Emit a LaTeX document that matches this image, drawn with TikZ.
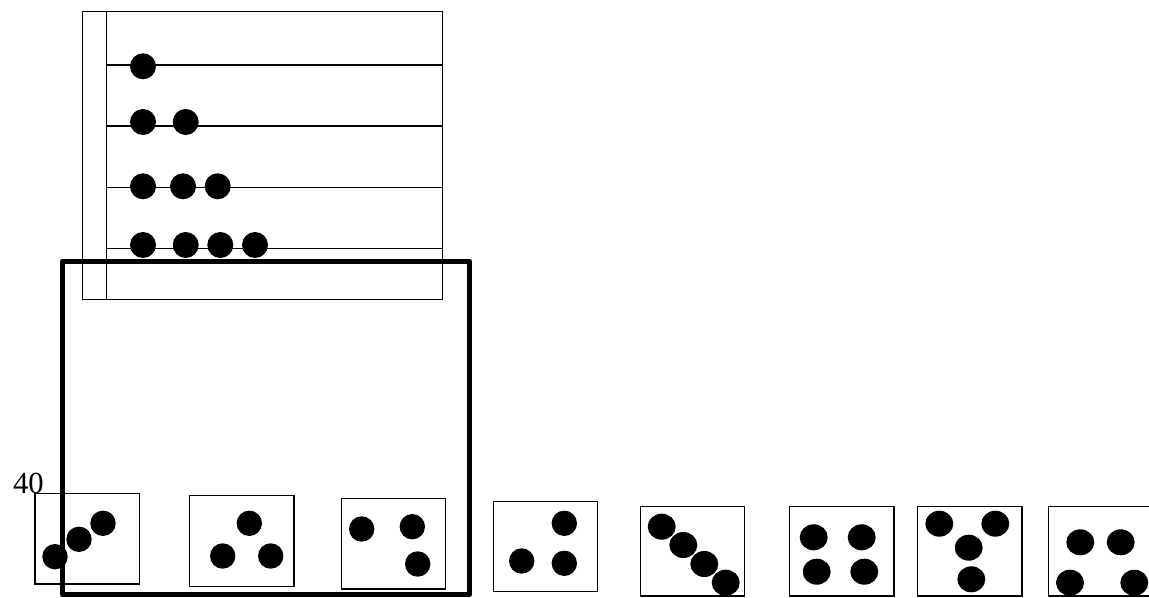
\documentclass[tikz,border=0pt]{standalone}
\usepackage{fontspec}
\setmainfont{Liberation Serif}
\begin{document}
\begin{tikzpicture}[x=0.75pt,y=-0.75pt,
  thin/.style={draw=black,line width=1.15pt},
  frame/.style={draw=black,line width=3.8pt,line join=round},
  bead/.style={fill=black},
  pip/.style={fill=black}]
\useasboundingbox (0,0) rectangle (1149,598);
\clip (0,0) rectangle (1149,598);
% abacus
\draw[thin] (82.7,11.7) rectangle (442.7,299.3);
\draw[thin] (106.7,11.7) -- (106.7,299.3);
\foreach \y in {65,126,187.7,248.7}{\draw[thin] (106.7,\y) -- (442.7,\y);}
\foreach \x/\y in {143/66.3, 143/122, 185.7/122, 143/186.3, 183/186.3, 217.7/186.3,
                   143/245, 185.7/245, 220.3/245, 255/245}
  {\fill[bead] (\x,\y) circle[radius=13];}
% label
\node[anchor=base east,inner sep=0pt,font=\fontsize{23}{27}\selectfont] (lab) at (44,493) {40};
% dice
\draw[thin] (35,493.3) rectangle (139.3,584);
\foreach \x/\y in {55/556.7, 79/539.3, 103/523.3}{\fill[pip] (\x,\y) circle[radius=12.7];}
\draw[thin] (189.3,495.7) rectangle (294,586.7);
\foreach \x/\y in {249.3/523.3, 222.7/556, 270.7/556}{\fill[pip] (\x,\y) circle[radius=12.7];}
\draw[thin] (341.7,498.7) rectangle (445.7,589);
\foreach \x/\y in {361.7/529, 412.3/526.7, 417.7/564}{\fill[pip] (\x,\y) circle[radius=12.7];}
\draw[thin] (493.7,501.3) rectangle (597.3,591.3);
\foreach \x/\y in {564.3/523.3, 521.7/561, 564.3/563.3}{\fill[pip] (\x,\y) circle[radius=12.7];}
\draw[thin] (640.3,506.7) rectangle (744.3,596);
\foreach \x/\y in {661.7/526.7, 683.3/545, 704.3/564, 725.7/582.7}{\fill[pip] (\x,\y) ellipse[x radius=14,y radius=13];}
\draw[thin] (789.7,506.7) rectangle (894,596);
\foreach \x/\y in {813.7/537.3, 861.7/537.3, 816.7/571.7, 864.3/571.7}{\fill[pip] (\x,\y) ellipse[x radius=14,y radius=13];}
\draw[thin] (917.7,506.7) rectangle (1022,596);
\foreach \x/\y in {939.3/523.7, 995.3/523.7, 968.7/547.7, 971.3/579.3}{\fill[pip] (\x,\y) ellipse[x radius=14,y radius=13];}
\draw[thin] (1048.7,506.3) rectangle (1160,596);
\foreach \x/\y in {1080.3/542.3, 1120.7/542.3, 1070/582.7, 1134.3/582.7}{\fill[pip] (\x,\y) ellipse[x radius=14,y radius=13];}
% thick frame
\draw[frame] (62.3,261.3) rectangle (469.5,594.3);
\end{tikzpicture}
\end{document}
